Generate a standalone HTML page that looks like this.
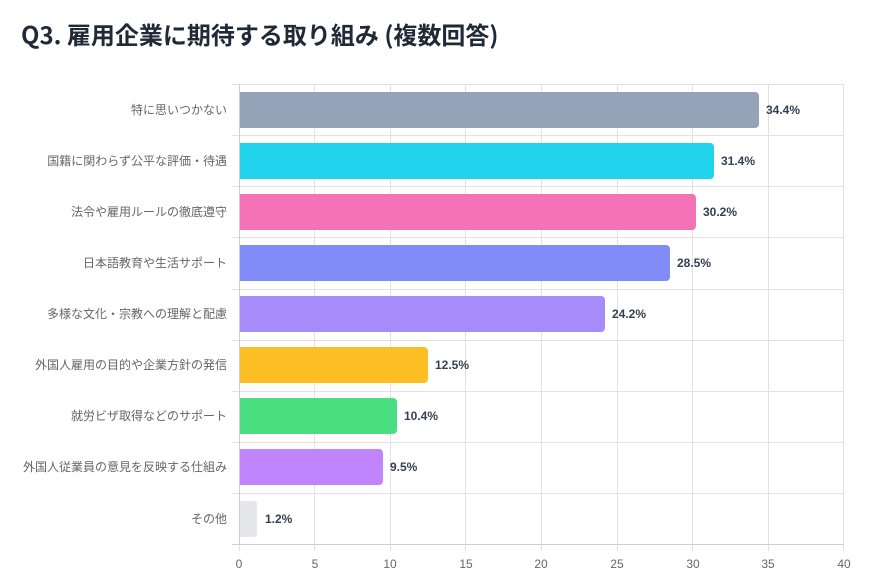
<!DOCTYPE html>
<html><head><meta charset="utf-8"><style>
body{margin:0;background:#fff;width:883px;height:588px;overflow:hidden}
svg{display:block}
</style></head><body>
<svg width="883" height="588" xmlns="http://www.w3.org/2000/svg" font-family="'Liberation Sans','Noto Sans CJK JP',sans-serif">
<text x="21" y="44" font-size="24" font-weight="bold" fill="#1f2937" font-family="'Noto Sans CJK JP','Liberation Sans',sans-serif">Q3. 雇用企業に期待する取り組み (複数回答)</text>
<g stroke="#e2e2e2" stroke-width="1">
<line x1="239.5" y1="84" x2="239.5" y2="551"/>
<line x1="314.5" y1="84" x2="314.5" y2="551"/>
<line x1="390.5" y1="84" x2="390.5" y2="551"/>
<line x1="465.5" y1="84" x2="465.5" y2="551"/>
<line x1="541.5" y1="84" x2="541.5" y2="551"/>
<line x1="617.5" y1="84" x2="617.5" y2="551"/>
<line x1="692.5" y1="84" x2="692.5" y2="551"/>
<line x1="768.5" y1="84" x2="768.5" y2="551"/>
<line x1="843.5" y1="84" x2="843.5" y2="551"/>
<line x1="232" y1="84.5" x2="844" y2="84.5"/>
<line x1="232" y1="135.5" x2="844" y2="135.5"/>
<line x1="232" y1="186.5" x2="844" y2="186.5"/>
<line x1="232" y1="237.5" x2="844" y2="237.5"/>
<line x1="232" y1="289.5" x2="844" y2="289.5"/>
<line x1="232" y1="340.5" x2="844" y2="340.5"/>
<line x1="232" y1="391.5" x2="844" y2="391.5"/>
<line x1="232" y1="442.5" x2="844" y2="442.5"/>
<line x1="232" y1="493.5" x2="844" y2="493.5"/>
</g>
<line x1="232" y1="544.5" x2="844" y2="544.5" stroke="#cfcfcf"/>
<line x1="239.5" y1="84" x2="239.5" y2="545" stroke="#cfcfcf"/>
<g font-size="12" fill="#666" text-anchor="end">
<text x="227" y="114">特に思いつかない</text>
<text x="227" y="165">国籍に関わらず公平な評価・待遇</text>
<text x="227" y="216">法令や雇用ルールの徹底遵守</text>
<text x="227" y="267">日本語教育や生活サポート</text>
<text x="227" y="318">多様な文化・宗教への理解と配慮</text>
<text x="227" y="369">外国人雇用の目的や企業方針の発信</text>
<text x="227" y="420">就労ビザ取得などのサポート</text>
<text x="227" y="471">外国人従業員の意見を反映する仕組み</text>
<text x="227" y="523">その他</text>
</g>
<g>
<path d="M240 92h515a4 4 0 0 1 4 4v28a4 4 0 0 1-4 4h-515z" fill="#94a3b8"/>
<path d="M240 143h470a4 4 0 0 1 4 4v28a4 4 0 0 1-4 4h-470z" fill="#22d3ee"/>
<path d="M240 194h452a4 4 0 0 1 4 4v28a4 4 0 0 1-4 4h-452z" fill="#f472b6"/>
<path d="M240 245h426a4 4 0 0 1 4 4v28a4 4 0 0 1-4 4h-426z" fill="#818cf8"/>
<path d="M240 296h361a4 4 0 0 1 4 4v28a4 4 0 0 1-4 4h-361z" fill="#a78bfa"/>
<path d="M240 347h184a4 4 0 0 1 4 4v28a4 4 0 0 1-4 4h-184z" fill="#fbbf24"/>
<path d="M240 398h153a4 4 0 0 1 4 4v28a4 4 0 0 1-4 4h-153z" fill="#4ade80"/>
<path d="M240 449h139a4 4 0 0 1 4 4v28a4 4 0 0 1-4 4h-139z" fill="#c084fc"/>
<path d="M240 501h14a3 3 0 0 1 3 3v30a3 3 0 0 1-3 3h-14z" fill="#e5e7eb"/>
</g>
<g font-size="12" font-weight="bold" fill="#334155">
<text x="766" y="114">34.4%</text>
<text x="721" y="165">31.4%</text>
<text x="703" y="216">30.2%</text>
<text x="677" y="267">28.5%</text>
<text x="612" y="318">24.2%</text>
<text x="435" y="369">12.5%</text>
<text x="404" y="420">10.4%</text>
<text x="390" y="471">9.5%</text>
<text x="265" y="523">1.2%</text>
</g>
<g font-size="12" fill="#666" text-anchor="middle">
<text x="239" y="568">0</text><text x="315" y="568">5</text><text x="390" y="568">10</text>
<text x="466" y="568">15</text><text x="541" y="568">20</text><text x="617" y="568">25</text>
<text x="693" y="568">30</text><text x="768" y="568">35</text><text x="844" y="568">40</text>
</g>
</svg>
</body></html>
